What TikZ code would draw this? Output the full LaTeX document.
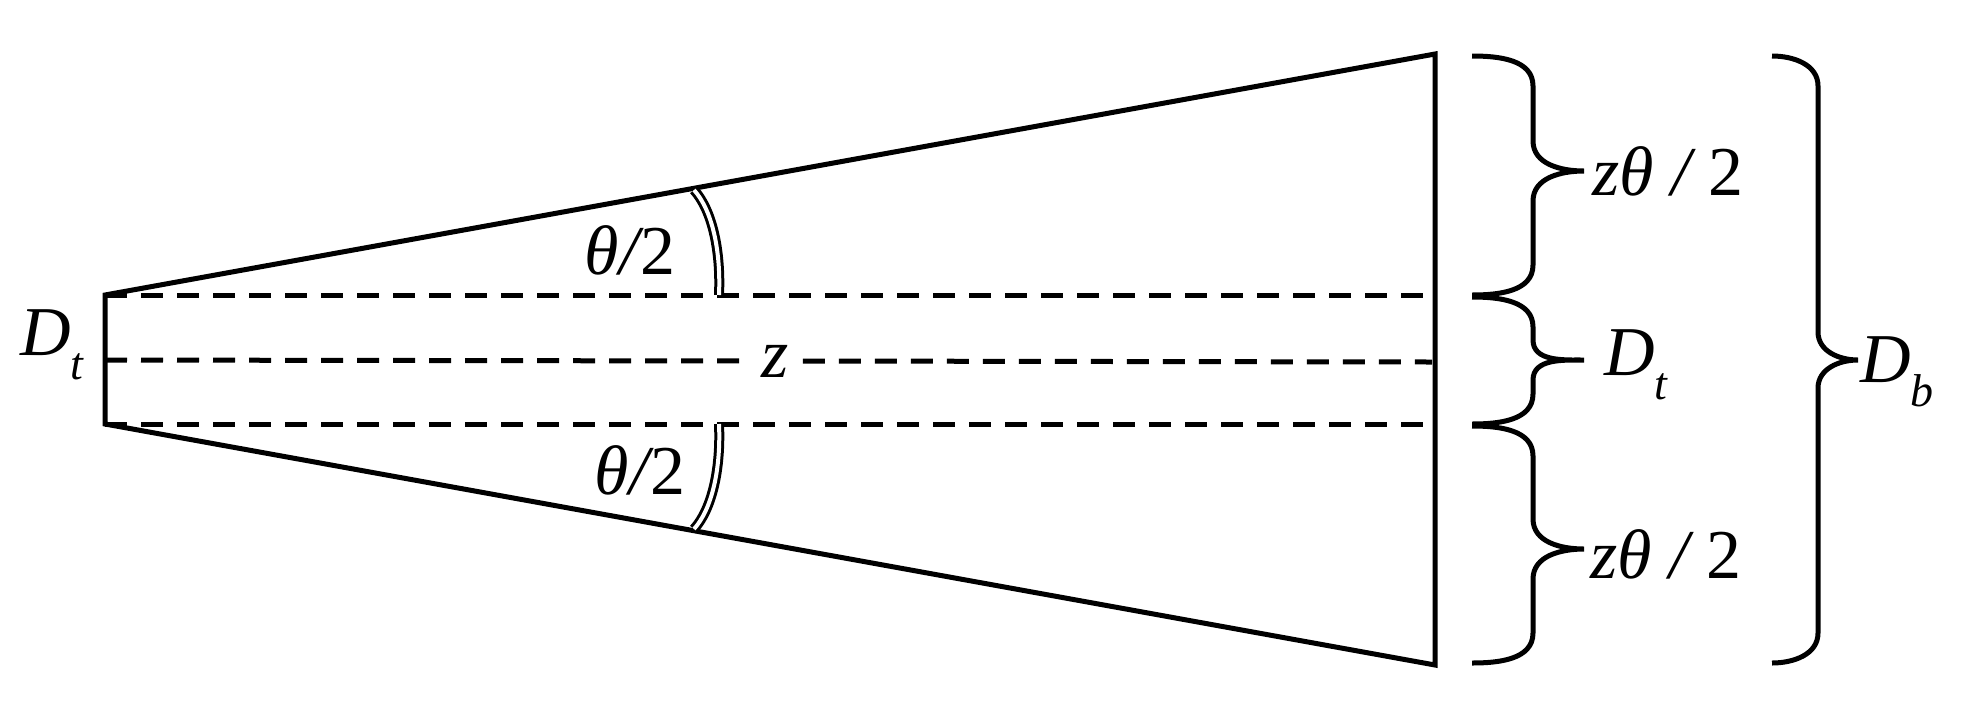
\documentclass[tikz,border=0pt]{standalone}
\usepackage{fontspec}
\setmainfont{Liberation Serif}
\begin{document}
\begin{tikzpicture}[x=1pt,y=-1pt,
  solid line/.style={line width=5pt},
  dash line/.style={line width=5pt,dash pattern=on 22pt off 14pt},
  br/.style={line width=5pt},
  dbl/.style={line width=3pt,double distance=4pt},
  lab/.style={font=\fontsize{70}{72}\selectfont\itshape,inner sep=0pt}]
\useasboundingbox (0,0) rectangle (1977,705);
\coordinate (lt) at (105,295);
\coordinate (lb) at (105,424);
\coordinate (lm) at (105,360);
\coordinate (rt) at (1435,54);
\coordinate (rb) at (1435,665);
\coordinate (rtd) at (1432,295);
\coordinate (rbd) at (1432,424);
\coordinate (rmd) at (1432,362);
\draw[solid line,line join=miter] (rt) -- (lt) -- (lb) -- (rb) -- cycle;
\draw[dash line] (lt) -- (rtd);
\draw[dash line] (lb) -- (rbd);
\node[lab,inner xsep=14pt] (z) at (775,361) {z};
\draw[dash line] (lm) -- (z.west);
\draw[dash line] (z.east) -- (rmd);
% angle arcs
\coordinate (u1) at (694,190);
\coordinate (u2) at (719,295);
\coordinate (d1) at (719,424);
\coordinate (d2) at (694,529);
\draw[dbl] (u1) .. controls (712,210) and (721,250) .. (u2);
\draw[dbl] (d1) .. controls (721,469) and (712,509) .. (d2);
\node[lab] (a1) at (630,250) {θ\kern1pt/\kern1pt\upshape 2};
\node[lab] (a2) at (640,470) {θ\kern1pt/\kern1pt\upshape 2};
\node[lab] (dtl) at (52,345) {D\raisebox{-0.35em}{\fontsize{46}{46}\selectfont t}};
% braces
\draw[br] (1472,56) to[out=0,in=90] (1533,86) -- (1533,141) to[out=-90,in=180] (1584,171) to[out=180,in=90] (1533,201) -- (1533,265) to[out=-90,in=0] (1472,295);
\draw[br] (1472,297) to[out=0,in=90] (1533,327) -- (1533,340) to[out=-90,in=180] (1584,360) to[out=180,in=90] (1533,380) -- (1533,394) to[out=-90,in=0] (1472,424);
\draw[br] (1472,426) to[out=0,in=90] (1533,456) -- (1533,519) to[out=-90,in=180] (1584,549) to[out=180,in=90] (1533,579) -- (1533,633) to[out=-90,in=0] (1472,663);
\draw[br] (1772,56) to[out=0,in=90] (1818,86) -- (1818,332) to[out=-90,in=180] (1858,360) to[out=180,in=90] (1818,388) -- (1818,633) to[out=-90,in=0] (1772,663);
\node[lab,anchor=west] (l1) at (1592,171) {zθ / \upshape 2};
\node[lab,anchor=west] (l2) at (1604,365) {D\raisebox{-0.35em}{\fontsize{46}{46}\selectfont t}};
\node[lab,anchor=west] (l3) at (1590,554) {zθ / \upshape 2};
\node[lab,anchor=west] (l4) at (1860,372) {D\raisebox{-0.35em}{\fontsize{46}{46}\selectfont b}};
\end{tikzpicture}
\end{document}
